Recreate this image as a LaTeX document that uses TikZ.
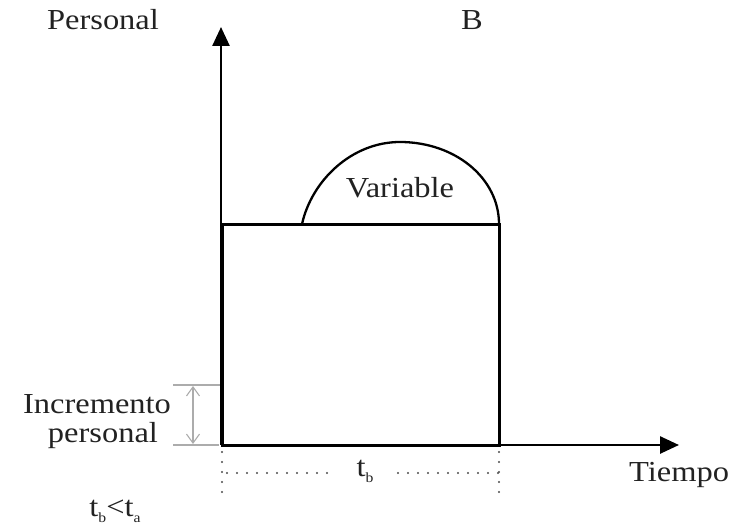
\documentclass[tikz,border=0pt]{standalone}
\usepackage{fontspec}
\setmainfont[FakeStretch=1.12]{Liberation Serif}
\usetikzlibrary{arrows.meta}
\definecolor{txtc}{HTML}{222222}
\tikzset{
  axis/.style={line width=2.6pt, -{Triangle[length=19pt,width=17pt]}},
  boxline/.style={line width=3pt},
  arcline/.style={line width=2.3pt},
  greyline/.style={draw=gray!65, line width=1.1pt},
  dotline/.style={draw=gray!60!black, line width=2.2pt, line cap=round, dash pattern=on 0pt off 10pt},
  txt/.style={text=txtc, font=\fontsize{29}{33}\selectfont, inner sep=0pt}
}
\newcommand{\smallsub}[1]{\raisebox{-6pt}{\fontsize{14}{15}\selectfont #1}}
\begin{document}
\begin{tikzpicture}[x=1pt,y=-1pt]
\useasboundingbox (0,0) rectangle (739,527);
\clip (0,0) rectangle (739,527);
\coordinate (O) at (221,445);
\coordinate (Ytop) at (221,27);
\coordinate (Xend) at (679,445);
\coordinate (BL) at (222,445);
\coordinate (TR) at (499,224);
\coordinate (A1) at (302,224);
\coordinate (A2) at (499,224);
% box
\draw[boxline] (BL) rectangle (TR);
% arc
\draw[arcline] (A1) .. controls (312,180) and (352,142) .. (400,142)
  .. controls (455,142) and (499,178) .. (A2);
% axes
\draw[axis] (O) -- (Ytop);
\draw[axis] (O) -- (Xend);
% increment marker
\coordinate (G1a) at (173,385);
\coordinate (G1b) at (220,385);
\coordinate (G2a) at (173,445);
\coordinate (G2b) at (219,445);
\coordinate (GA) at (193,386);
\coordinate (GB) at (193,444);
\draw[greyline] (G1a) -- (G1b);
\draw[greyline] (G2a) -- (G2b);
\draw[greyline, {Straight Barb[length=9pt,width=13pt]}-{Straight Barb[length=9pt,width=13pt]}] (GA) -- (GB);
% dotted
\coordinate (D1a) at (222,452);
\coordinate (D1b) at (222,493);
\coordinate (D2a) at (499,452);
\coordinate (D2b) at (499,493);
\coordinate (H1a) at (227,473);
\coordinate (H1b) at (330,473);
\coordinate (H2a) at (398,473);
\coordinate (H2b) at (500,473);
\draw[dotline] (D1a) -- (D1b);
\draw[dotline] (D2a) -- (D2b);
\draw[dotline] (H1a) -- (H1b);
\draw[dotline] (H2a) -- (H2b);
% texts
\node[txt] (pers) at (103,20) {Personal};
\node[txt] (b) at (472,20) {B};
\node[txt] (var) at (400,188) {Variable};
\node[txt] (inc) at (97,404) {Incremento};
\node[txt] (per2) at (103,436) {personal};
\node[txt, anchor=west] (tiem) at (629,475) {Tiempo};
\node[txt] (tb) at (365,471) {t\smallsub{b}};
\node[txt] (tbta) at (115,511) {t\smallsub{b}<t\smallsub{a}};
\end{tikzpicture}
\end{document}
